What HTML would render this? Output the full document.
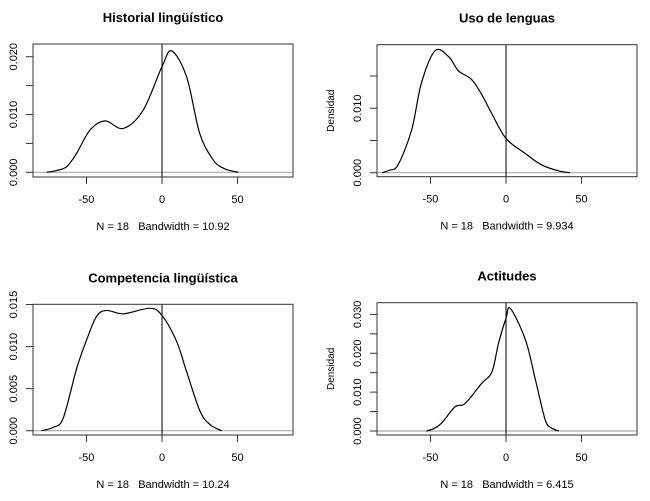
<!DOCTYPE html>
<html><head><meta charset="utf-8"><style>
body{margin:0;background:#fff}
svg{display:block;font-family:"Liberation Sans",Arial,sans-serif}
text{white-space:pre}
</style></head><body>
<svg id="c" width="650" height="501" viewBox="0 0 650 501"></svg>
<script>
const titles=["Historial lingüístico","Uso de lenguas","Competencia lingüística","Actitudes"];
const subtitles=["N = 18   Bandwidth = 10.92","N = 18   Bandwidth = 9.934","N = 18   Bandwidth = 10.24","N = 18   Bandwidth = 6.415"];
const xTicks=[-50,0,50];
const yTicks1=[0,0.005,0.010,0.015,0.020];
const yLabels1=["0.000","","0.010","","0.020"];
const yTicks2=[0,0.005,0.010,0.015];
const yLabels2=["0.000","","0.010",""];
const yTicks3=[0,0.005,0.010,0.015];
const yLabels3=["0.000","0.005","0.010","0.015"];
const yTicks4=[0,0.005,0.010,0.015,0.020,0.025,0.030];
const yLabels4=["0.000","","0.010","","0.020","","0.030"];
const xs1=[-76.4,-70,-63,-56.5,-47.7,-37.7,-25.6,-12.4,0,6.4,16.3,25,34,40,45,50.5];
const ys1=[0,0.0003,0.001,0.0033,0.0073,0.0089,0.0076,0.0108,0.0183,0.021,0.0165,0.0067,0.0021,0.0008,0.0003,0];
const xs2=[-82,-77,-71.5,-62.5,-56,-47,-38,-31.5,-23,-16.5,-9.5,0,12.6,23.6,34.6,42.4];
const ys2=[0,0.0004,0.0012,0.0066,0.0139,0.0189,0.018,0.0158,0.0145,0.0123,0.0092,0.0053,0.003,0.0012,0.0003,0];
const xs3=[-79.7,-72,-65.4,-56.5,-49.9,-43.3,-36.6,-25.6,-8,0,9.7,16.3,25.2,32,39.5];
const ys3=[0,0.0004,0.0015,0.0074,0.0108,0.0136,0.0143,0.0139,0.01455,0.0137,0.0106,0.007,0.0023,0.0007,0];
const xs4=[-52.7,-48,-42.7,-33.8,-27,-16,-9.3,-5,0,2.9,12.9,19.5,26,30,35];
const ys4=[0,0.0006,0.002,0.0062,0.0071,0.0123,0.0152,0.0225,0.029,0.0315,0.0234,0.0131,0.0028,0.0008,0];
const xlim=[-85.4,86.7];
const ylims=[[-0.00081,0.0222],[-0.00062,0.01985],[-0.00051,0.01503],[-0.00103,0.033]];

const svg=document.getElementById('c');
const NS="http://www.w3.org/2000/svg";
function mk(t,a,p){const e=document.createElementNS(NS,t);for(const k in a)e.setAttribute(k,a[k]);(p||svg).appendChild(e);return e;}
const boxes=[[33,44,293,177],[377,44.7,637,176.7],[33,304.3,293,435],[377,302.7,637,435]];
const yT=[yTicks1,yTicks2,yTicks3,yTicks4],yL=[yLabels1,yLabels2,yLabels3,yLabels4];
const XS=[xs1,xs2,xs3,xs4],YS=[ys1,ys2,ys3,ys4];
for(let p=0;p<4;p++){
  const [L,T,R,B]=boxes[p];
  const g=mk('g',{});
  
  
  const sx=v=>L+(v-xlim[0])/(xlim[1]-xlim[0])*(R-L);
  const sy=v=>B-(v-ylims[p][0])/(ylims[p][1]-ylims[p][0])*(B-T);
  const cx=(L+R)/2;
  const t=mk('text',{x:cx,y:T-22,'text-anchor':'middle','font-size':13,'font-weight':'bold'},g);t.textContent=titles[p];
  
  const s=mk('text',{x:cx,y:B+53,'text-anchor':'middle','font-size':11,'xml:space':'preserve'},g);s.textContent=subtitles[p];
  
  const z=mk('line',{x1:L,x2:R,y1:sy(0),y2:sy(0),stroke:'#aaa','stroke-width':1.2},g);
  
  const v=mk('line',{x1:sx(0),x2:sx(0),y1:T,y2:B,stroke:'#000','stroke-width':1},g);
  
  const b=mk('rect',{x:L,y:T,width:R-L,height:B-T,fill:'none',stroke:'#333','stroke-width':1},g);
  
  xTicks.forEach(xv=>{
    mk('line',{x1:sx(xv),x2:sx(xv),y1:B,y2:B+7,stroke:'#333'},g);
    const l=mk('text',{x:sx(xv),y:B+26,'text-anchor':'middle','font-size':11},g);l.textContent=xv;
    
  });
  yT[p].forEach((yv,i)=>{
    mk('line',{x1:L,x2:L-7,y1:sy(yv),y2:sy(yv),stroke:'#333'},g);
    if(yL[p][i]){const l=mk('text',{x:0,y:0,'text-anchor':'middle','font-size':11,transform:`translate(${L-16},${sy(yv)}) rotate(-90)`},g);l.textContent=yL[p][i];
    }
  });
  if(p%2==1){const d=mk('text',{x:0,y:0,'text-anchor':'middle','font-size':10,transform:`translate(${L-43},${(T+B)/2}) rotate(-90)`},g);d.textContent='Densidad';
    }
  const pts=XS[p].map((x,i)=>[sx(x),sy(YS[p][i])]);
  let dstr='M'+pts[0].join(',');
  for(let i=0;i<pts.length-1;i++){
    const p0=pts[i-1]||pts[i],p1=pts[i],p2=pts[i+1],p3=pts[i+2]||p2;
    const c1=[p1[0]+(p2[0]-p0[0])/6,p1[1]+(p2[1]-p0[1])/6],c2=[p2[0]-(p3[0]-p1[0])/6,p2[1]-(p3[1]-p1[1])/6];
    dstr+=`C${c1.join(',')} ${c2.join(',')} ${p2.join(',')}`;
  }
  const c=mk('path',{d:dstr,fill:'none',stroke:'#000','stroke-width':1.2},g);
  
}
</script>
</body></html>
